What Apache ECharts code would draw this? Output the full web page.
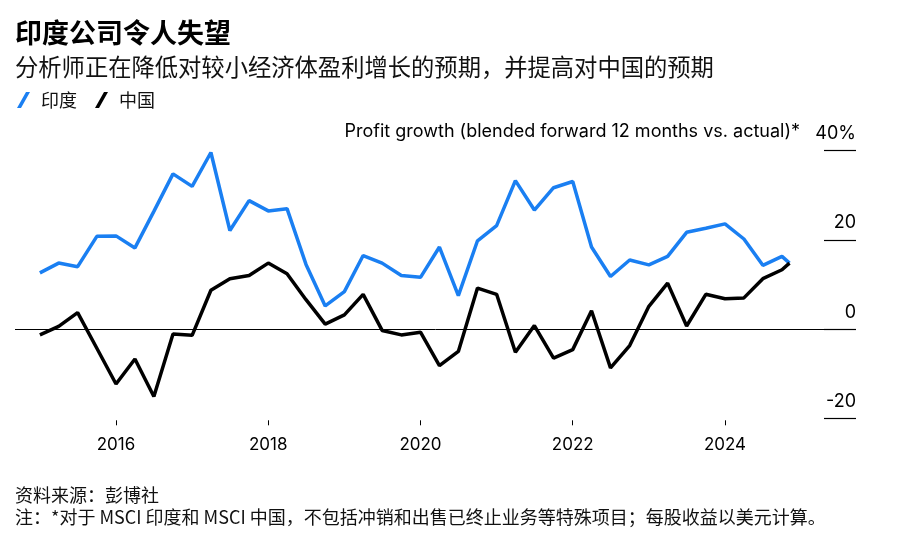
<!DOCTYPE html>
<html>
<head>
<meta charset="utf-8">
<script src="https://cdn.jsdelivr.net/npm/echarts@6/dist/echarts.min.js"></script>
<style>html,body{margin:0;padding:0;background:#fff}#c{width:907px;height:545px}</style>
</head>
<body>
<div id="c"></div>
<script>
// Observation dates (quarterly, last point is latest reading)
const dates = ['2015-01-01','2015-04-01','2015-07-01','2015-10-01',
  '2016-01-01','2016-04-01','2016-07-01','2016-10-01',
  '2017-01-01','2017-04-01','2017-07-01','2017-10-01',
  '2018-01-01','2018-04-01','2018-07-01','2018-10-01',
  '2019-01-01','2019-04-01','2019-07-01','2019-10-01',
  '2020-01-01','2020-04-01','2020-07-01','2020-10-01',
  '2021-01-01','2021-04-01','2021-07-01','2021-10-01',
  '2022-01-01','2022-04-01','2022-07-01','2022-10-01',
  '2023-01-01','2023-04-01','2023-07-01','2023-10-01',
  '2024-01-01','2024-04-01','2024-07-01','2024-10-01','2024-11-06'];
const india = [12.6, 14.8, 14.0, 20.8, 20.9, 18.2, 26.4, 34.8, 32.0, 39.6,
  22.1, 28.8, 26.5, 27.0, 14.5, 5.2, 8.4, 16.5, 14.8, 12.0,
  11.6, 18.4, 7.5, 19.8, 23.2, 33.3, 26.7, 31.7, 33.1, 18.4,
  11.8, 15.5, 14.4, 16.3, 21.7, 22.6, 23.6, 20.2, 14.3, 16.3, 14.8];
const china = [-1.3, 0.6, 3.7, -4.3, -12.3, -6.7, -15.1, -1.1, -1.4, 8.7,
  11.3, 12.0, 14.8, 12.4, 6.6, 1.1, 3.2, 7.8, -0.3, -1.3,
  -0.7, -8.2, -5.0, 9.2, 7.8, -5.2, 0.8, -6.5, -4.6, 4.1,
  -8.7, -3.7, 5.1, 10.3, 0.7, 7.8, 6.8, 7.0, 11.3, 13.3, 14.8];
const xTicks = [2016, 2018, 2020, 2022, 2024];
const yTicks = [-20, 0, 20, 40];

function toYear(s) {
  const d = new Date(s + 'T00:00:00Z');
  const y = d.getUTCFullYear();
  const start = Date.UTC(y, 0, 1), end = Date.UTC(y + 1, 0, 1);
  return y + (d.getTime() - start) / (end - start);
}
const xs = dates.map(toYear);
const indiaData = xs.map((x, i) => [x, india[i]]);
const chinaData = xs.map((x, i) => [x, china[i]]);

const BLUE = '#1a7ff2';
const latin = 'Inter, "Liberation Sans", Arial, "Noto Sans CJK SC", sans-serif';
const cjk = '"Noto Sans CJK SC", "Liberation Sans", sans-serif';

const chart = echarts.init(document.getElementById('c'), null, {renderer: 'canvas'});
chart.setOption({
  animation: false,
  backgroundColor: '#fff',
  title: [
    {text: '印度公司令人失望', left: 15, top: 18, padding: 0,
     textStyle: {fontFamily: cjk, fontSize: 27, fontWeight: 'bold', color: '#000', lineHeight: 30}},
    {text: '分析师正在降低对较小经济体盈利增长的预期，并提高对中国的预期', left: 15, top: 53, padding: 0,
     textStyle: {fontFamily: cjk, fontSize: 23.3, fontWeight: 'normal', color: '#111', lineHeight: 28}},
    {text: 'Profit growth (blended forward 12 months vs. actual)*', right: 107, top: 122, padding: 0,
     textStyle: {fontFamily: latin, fontSize: 18, fontWeight: 'normal', color: '#000', lineHeight: 20}},
    {text: '资料来源：彭博社\n注：*对于 MSCI 印度和 MSCI 中国，不包括冲销和出售已终止业务等特殊项目；每股收益以美元计算。',
     left: 15, top: 484, padding: 0,
     textStyle: {fontFamily: cjk, fontSize: 18, fontWeight: 'normal', color: '#111', lineHeight: 22}}
  ],
  legend: {
    left: 17, top: 91, padding: 0, itemGap: 18, itemWidth: 13, itemHeight: 16,
    data: [
      {name: '印度', icon: 'path://M9,0 L13,0 L4,16 L0,16 Z'},
      {name: '中国', icon: 'path://M9,0 L13,0 L4,16 L0,16 Z'}
    ],
    textStyle: {fontFamily: cjk, fontSize: 18, color: '#111', padding: [0, 0, 0, 6]}
  },
  grid: {left: 15, right: 51, top: 150.7, bottom: 126.7, containLabel: false},
  xAxis: {
    type: 'value',
    min: 2014.673, max: 2025.721,
    offset: 2,
    splitLine: {show: false},
    axisLine: {show: false, onZero: false},
    axisTick: {show: true, length: 5, customValues: xTicks, lineStyle: {color: '#000', width: 1}},
    axisLabel: {show: true, customValues: xTicks, margin: 16, formatter: v => String(v),
      fontFamily: latin, fontSize: 17, color: '#000'}
  },
  yAxis: {
    type: 'value', position: 'right',
    min: -20, max: 40, interval: 20,
    splitLine: {show: false},
    axisLine: {show: false},
    axisTick: {show: true, inside: true, length: 32, lineStyle: {color: '#000', width: 1.2}},
    axisLabel: {show: true, inside: true, margin: 0, showMinLabel: true, showMaxLabel: true,
      formatter: v => (v === 40 ? '40%' : String(v)),
      verticalAlign: 'bottom', padding: [0, 0, 8, 0],
      fontFamily: latin, fontSize: 18, color: '#000'}
  },
  series: [
    {name: '中国', type: 'line', data: chinaData, showSymbol: false, symbol: 'none',
     color: '#000', lineStyle: {color: '#000', width: 3.5}, z: 3,
     markLine: {silent: true, symbol: 'none', label: {show: false},
       lineStyle: {color: '#000', width: 1, type: 'solid'}, data: [{yAxis: 0}]}},
    {name: '印度', type: 'line', data: indiaData, showSymbol: false, symbol: 'none',
     color: BLUE, lineStyle: {color: BLUE, width: 3.5}, z: 2}
  ]
});
</script>
</body>
</html>
